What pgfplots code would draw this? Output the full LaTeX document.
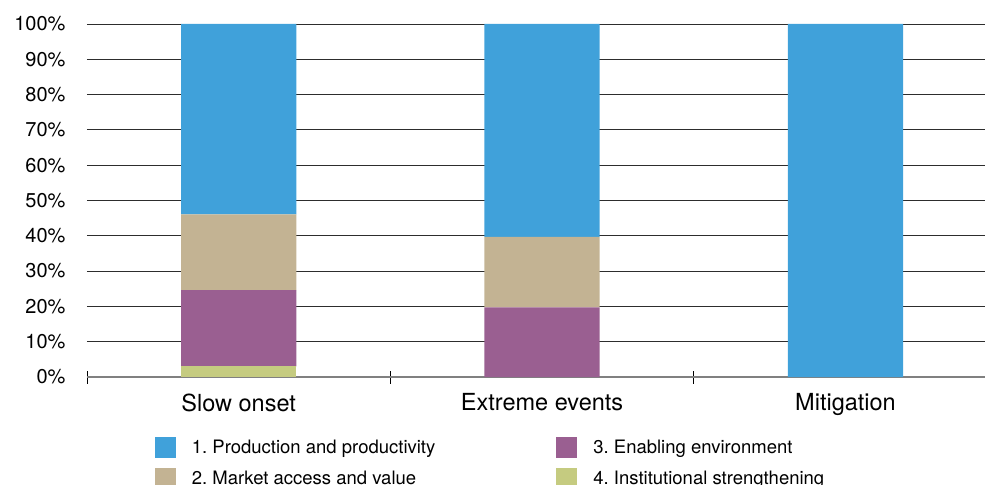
\documentclass[border=0pt]{standalone}
\usepackage{fontspec}
\setmainfont{TeX Gyre Heros}
\usepackage{pgfplots}
\pgfplotsset{compat=1.18}
\definecolor{cBlue}{RGB}{64,161,218}
\definecolor{cTan}{RGB}{195,179,147}
\definecolor{cPurple}{RGB}{154,95,145}
\definecolor{cGreen}{RGB}{197,203,128}
\definecolor{cGrid}{RGB}{45,45,45}
\definecolor{cAxis}{RGB}{128,128,128}
\frenchspacing
\begin{document}
\begin{tikzpicture}
\begin{axis}[
  at={(0,0)}, anchor=south west,
  scale only axis,
  width=898bp, height=353bp,
  ybar stacked,
  bar width=0.38,
  xmin=-0.5, xmax=2.46,
  ymin=0, ymax=100,
  xtick={0,1,2},
  xticklabels={Slow onset,Extreme events,Mitigation},
  x tick label style={font=\fontsize{23.5bp}{26bp}\selectfont, yshift=-13bp},
  extra x ticks={-0.5,0.5,1.5},
  extra x tick labels={},
  extra x tick style={major tick length=13bp, xtick align=center, tick style={black, line width=0.9bp}, grid=none},
  ytick={0,10,...,100},
  yticklabel={\pgfmathprintnumber{\tick}\%},
  y tick label style={font=\fontsize{20bp}{23bp}\selectfont, xshift=-18bp},
  /pgf/number format/assume math mode=true,
  major tick length=0pt,
  ymajorgrids,
  grid style={cGrid, line width=0.9bp},
  axis x line*=bottom,
  axis y line*=left,
  y axis line style={draw=none},
  x axis line style={draw=none},
  legend columns=2,
  legend cell align=left,
  legend image code/.code={\fill[#1, draw=none] (0bp,-10.5bp) rectangle (21bp,10.5bp);},
  legend style={
    draw=none, fill=none,
    at={(rel axis cs:0.072,-0.163)}, anchor=north west,
    font=\fontsize{18.5bp}{21bp}\selectfont,
    row sep=10bp,
    /tikz/every even column/.append style={column sep=119bp},
    /tikz/every odd column/.append style={column sep=14bp},
  },
]
\addplot[fill=cGreen, draw=none, forget plot] coordinates {(0,3.0) (1,0) (2,0)};
\addplot[fill=cPurple, draw=none, forget plot] coordinates {(0,21.6) (1,19.7) (2,0)};
\addplot[fill=cTan, draw=none, forget plot] coordinates {(0,21.5) (1,20.0) (2,0)};
\addplot[fill=cBlue, draw=none, forget plot] coordinates {(0,53.9) (1,60.3) (2,100)};
\addlegendimage{fill=cBlue, draw=none}
\addlegendentry{1. Production and productivity}
\addlegendimage{fill=cPurple, draw=none}
\addlegendentry{3. Enabling environment}
\addlegendimage{fill=cTan, draw=none}
\addlegendentry{2. Market access and value}
\addlegendimage{fill=cGreen, draw=none}
\addlegendentry{4. Institutional strengthening}
\draw[cAxis, line width=2.6bp] (rel axis cs:0,0) -- (rel axis cs:1,0);
\end{axis}
\pgfresetboundingbox
\path (-87bp,-108bp) rectangle (898bp,377bp);
\end{tikzpicture}
\end{document}
